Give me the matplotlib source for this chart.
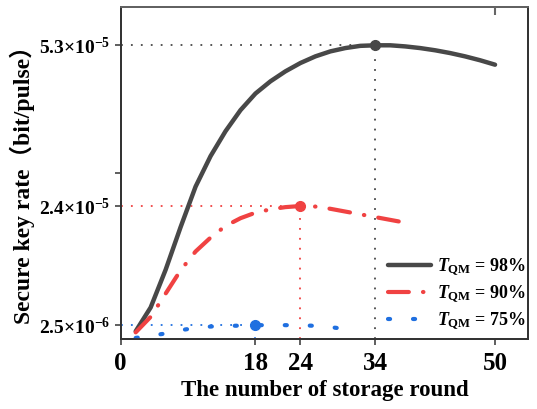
import matplotlib
matplotlib.use("Agg")
import matplotlib.pyplot as plt
import numpy as np

plt.rcParams['font.family'] = ['Liberation Serif', 'Noto Sans CJK SC']
plt.rcParams['font.weight'] = 'bold'
plt.rcParams['mathtext.fontset'] = 'custom'
plt.rcParams['mathtext.rm'] = 'Liberation Serif:bold'
plt.rcParams['mathtext.it'] = 'Liberation Serif:italic:bold'
plt.rcParams['mathtext.bf'] = 'Liberation Serif:bold'

# storage rounds
x_98 = [2, 4, 6, 8, 10, 12, 14, 16, 18, 20, 22, 24, 26, 28, 30, 32, 34,
        36, 38, 40, 42, 44, 46, 48, 50]
y_98 = [1.4, 5.7, 12.5, 20.2, 27.5, 33.0, 37.5, 41.3, 44.3, 46.5, 48.3, 49.8,
        51.0, 51.9, 52.5, 52.9, 53.0, 53.0, 52.8, 52.5, 52.1, 51.6, 51.0, 50.3, 49.5]

x_90 = [2, 4, 6, 8, 10, 12, 14, 16, 18, 20, 22, 24, 26, 28, 30, 32, 34, 36, 38]
y_90 = [1.2, 4.0, 8.2, 12.4, 15.8, 18.3, 20.4, 21.8, 22.8, 23.4, 23.8, 24.0,
        23.9, 23.5, 23.0, 22.5, 22.0, 21.5, 21.0]

x_75 = [2, 4, 6, 8, 10, 12, 14, 16, 18, 20, 22, 24, 26, 28, 30]
y_75 = [0.2, 0.6, 1.0, 1.6, 2.0, 2.25, 2.35, 2.42, 2.5, 2.5, 2.5, 2.48,
        2.38, 2.15, 1.8]

scale = 1e-6
peaks = [(34, 53.0), (24, 24.0), (18, 2.5)]
labels = [r'$T_{\mathrm{QM}}$ = 98%', r'$T_{\mathrm{QM}}$ = 90%', r'$T_{\mathrm{QM}}$ = 75%']
colors = ['#484848', '#f04242', '#1f6fe0']

ytick_vals = [2.5e-6, 2.4e-5, 3.0e-5, 5.3e-5]
ytick_labels = [r'$\mathbf{2.5{\times}10^{-6}}$', r'$\mathbf{2.4{\times}10^{-5}}$', '',
                r'$\mathbf{5.3{\times}10^{-5}}$']
xtick_vals = [0, 18, 24, 34, 50]

fig = plt.figure(figsize=(5.37, 4.09), dpi=100)
ax = fig.add_axes([0.2248, 0.1711, 0.7584, 0.813])

ax.plot(x_98, np.array(y_98) * scale, color=colors[0], lw=3.2, label=labels[0],
        solid_capstyle='round', zorder=3)
ax.plot(x_90, np.array(y_90) * scale, color=colors[1], lw=3, label=labels[1],
        linestyle=(0, (5, 3.4, 0.1, 3.4)), dash_capstyle='round', zorder=3)
ax.plot(x_75, np.array(y_75) * scale, color=colors[2], lw=3, label=labels[2],
        linestyle=(0, (0.5, 5.5)), dash_capstyle='round', zorder=3)

# peak markers and guide lines
for (px, py), c in zip(peaks, colors):
    ax.plot([0, px], [py * scale, py * scale], color=c, lw=1.3,
            linestyle=(0, (1, 4.5)), zorder=2)
    ax.plot([px, px], [0, py * scale], color=c, lw=1.3,
            linestyle=(0, (1, 4.5)), zorder=2)
    ax.plot(px, py * scale, 'o', color=c, ms=7, zorder=4)

ax.set_xlim(0, 54.4)
ax.set_ylim(0, 6e-5)
ax.set_xticks(xtick_vals)
ax.set_xticklabels([str(v) for v in xtick_vals], fontsize=18, fontweight='bold')
ax.set_yticks(ytick_vals)
ax.set_yticklabels(ytick_labels, fontsize=14)
ax.tick_params(axis='both', direction='out', length=4, width=1.1, color='#333333')
ax.tick_params(axis='x', pad=5)

# lone inward tick on the top spine
ax2 = ax.twiny()
ax2.set_xlim(ax.get_xlim())
ax2.set_xticks([50])
ax2.tick_params(axis='x', direction='in', length=6, width=1.5, color='#666666',
                labeltop=False)

for s in list(ax.spines.values()) + list(ax2.spines.values()):
    s.set_linewidth(1.3)
    s.set_color('#333333')
ax2.spines['top'].set_color('#666666')

ax.set_xlabel('The number of storage round', fontsize=16.5, fontweight='bold', labelpad=4)
ax.set_ylabel('Secure key rate（bit/pulse）', fontsize=17, fontweight='bold')
ax.yaxis.set_label_coords(-0.21, 0.48)

ax.legend(loc='lower right', frameon=False, fontsize=13, handlelength=2.4,
          handletextpad=0.3, labelspacing=0.3, borderaxespad=0.0,
          bbox_to_anchor=(1.012, 0.0))

fig.savefig('out.png', dpi=100)
